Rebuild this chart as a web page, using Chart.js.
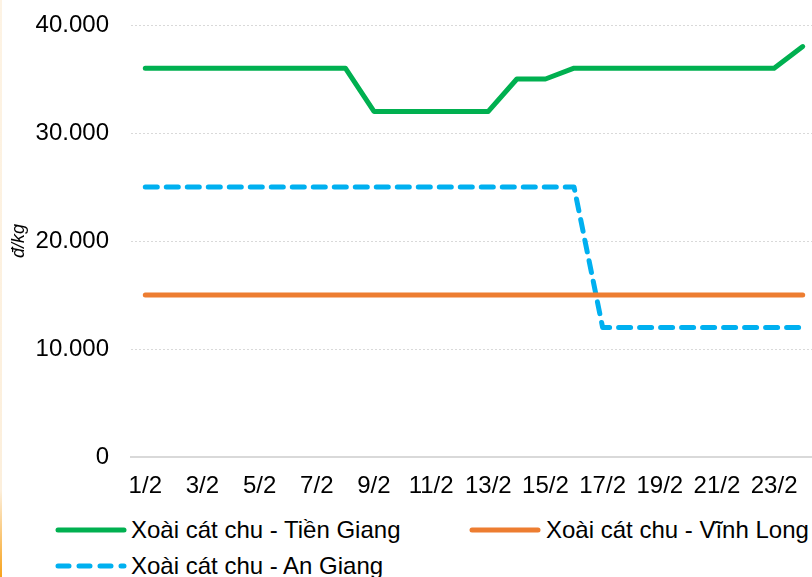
<!DOCTYPE html>
<html>
<head>
<meta charset="utf-8">
<script src="https://cdn.jsdelivr.net/npm/chart.js@4"></script>
<style>
  html, body { margin: 0; padding: 0; background: #fff; overflow: hidden; }
  body { width: 812px; height: 577px; position: relative; font-family: "Liberation Sans", Arial, sans-serif; }
  #frame { position: absolute; left: 0; top: 0; width: 2px; height: 577px;
           background: linear-gradient(to bottom, #fdf3e4 0%, #fcefdc 85%, #f7a21b 100%); }
  #wrap { position: absolute; left: 0; top: 0; width: 817px; height: 510px; }
  .item { position: absolute; height: 36px; line-height: 36px; font-size: 24px; color: #000; white-space: nowrap; }
  .item svg { position: absolute; left: 0; top: 0; }
  .item span { position: absolute; top: 0; }
</style>
</head>
<body>
<div id="frame"></div>
<div id="wrap"><canvas id="priceChart" width="817" height="510"></canvas></div>
<div id="legend"></div>
<script>
// ngay trong thang 2
const days = ['1/2','2/2','3/2','4/2','5/2','6/2','7/2','8/2','9/2','10/2','11/2','12/2',
              '13/2','14/2','15/2','16/2','17/2','18/2','19/2','20/2','21/2','22/2','23/2','24/2'];

// gia xoai cat chu (d/kg)
const tienGiang = [36000,36000,36000,36000,36000,36000,36000,36000,32000,32000,32000,32000,
                   32000,35000,35000,36000,36000,36000,36000,36000,36000,36000,36000,38000];
const vinhLong  = [15000,15000,15000,15000,15000,15000,15000,15000,15000,15000,15000,15000,
                   15000,15000,15000,15000,15000,15000,15000,15000,15000,15000,15000,15000];
const anGiang   = [25000,25000,25000,25000,25000,25000,25000,25000,25000,25000,25000,25000,
                   25000,25000,25000,25000,12000,12000,12000,12000,12000,12000,12000,12000];

const seriesNames = ['Xoài cát chu - Tiền Giang', 'Xoài cát chu - Vĩnh Long', 'Xoài cát chu - An Giang'];
const yTicks = [0, 10000, 20000, 30000, 40000];

function fmt(v) {
  return v.toString().replace(/\B(?=(\d{3})+(?!\d))/g, '.');
}

const font = { family: '"Liberation Sans", Arial, sans-serif', size: 24 };

const datasets = [
  { label: seriesNames[0], data: tienGiang, borderColor: '#00b050', borderDash: [] },
  { label: seriesNames[1], data: vinhLong, borderColor: '#ed7d31', borderDash: [] },
  { label: seriesNames[2], data: anGiang, borderColor: '#00b0f0', borderDash: [12, 9] }
].map(d => Object.assign(d, {
  borderWidth: 5,
  borderCapStyle: 'round',
  borderJoinStyle: 'round',
  pointRadius: 0,
  pointHoverRadius: 0,
  tension: 0,
  fill: false
}));

const chart = new Chart(document.getElementById('priceChart'), {
  type: 'line',
  data: { labels: days, datasets: datasets },
  options: {
    responsive: false,
    animation: false,
    devicePixelRatio: 1,
    layout: { padding: { top: 25, left: 0, right: 0, bottom: 0 } },
    plugins: { legend: { display: false }, tooltip: { enabled: false } },
    scales: {
      x: {
        offset: true,
        grid: { display: false, drawTicks: false },
        border: { display: true, color: '#d9d9d9', width: 2 },
        ticks: {
          autoSkip: false,
          maxRotation: 0,
          padding: 15,
          color: '#000',
          font: font,
          callback: function (v, i) { return i % 2 === 0 ? days[i] : ''; }
        },
        afterFit: function (s) { s.height = 53; s.paddingLeft = 0; s.paddingRight = 0; }
      },
      y: {
        min: 0,
        max: 40000,
        afterBuildTicks: function (s) { s.ticks = yTicks.map(v => ({ value: v })); },
        grid: {
          color: function (c) { return c.tick.value === 0 ? 'rgba(0,0,0,0)' : '#d9d9d9'; },
          lineWidth: 1,
          drawTicks: false
        },
        border: { display: false, dash: [2, 2] },
        ticks: { padding: 22, color: '#000', font: font, callback: v => fmt(v) },
        title: {
          display: true,
          text: 'đ/kg',
          color: '#000',
          padding: { top: 8, bottom: 0 },
          font: { family: '"Liberation Sans", Arial, sans-serif', size: 18, style: 'italic' }
        },
        afterFit: function (s) { s.width = 131; s.paddingTop = 0; s.paddingBottom = 0; }
      }
    }
  }
});

// legend (HTML, hai cot)
const legendPos = [[55, 512], [469, 512], [55, 548]];
const legend = document.getElementById('legend');
chart.data.datasets.forEach(function (ds, i) {
  const el = document.createElement('div');
  el.className = 'item';
  el.style.left = legendPos[i][0] + 'px';
  el.style.top = legendPos[i][1] + 'px';
  const dash = ds.borderDash.length ? ' stroke-dasharray="11 10"' : '';
  el.innerHTML =
    '<svg width="76" height="36"><line x1="3" y1="18" x2="69" y2="18" stroke="' + ds.borderColor +
    '" stroke-width="5" stroke-linecap="round"' + dash + '/></svg>' +
    '<span style="left:' + (i === 1 ? 77 : 76) + 'px">' + ds.label + '</span>';
  legend.appendChild(el);
});
</script>
</body>
</html>
